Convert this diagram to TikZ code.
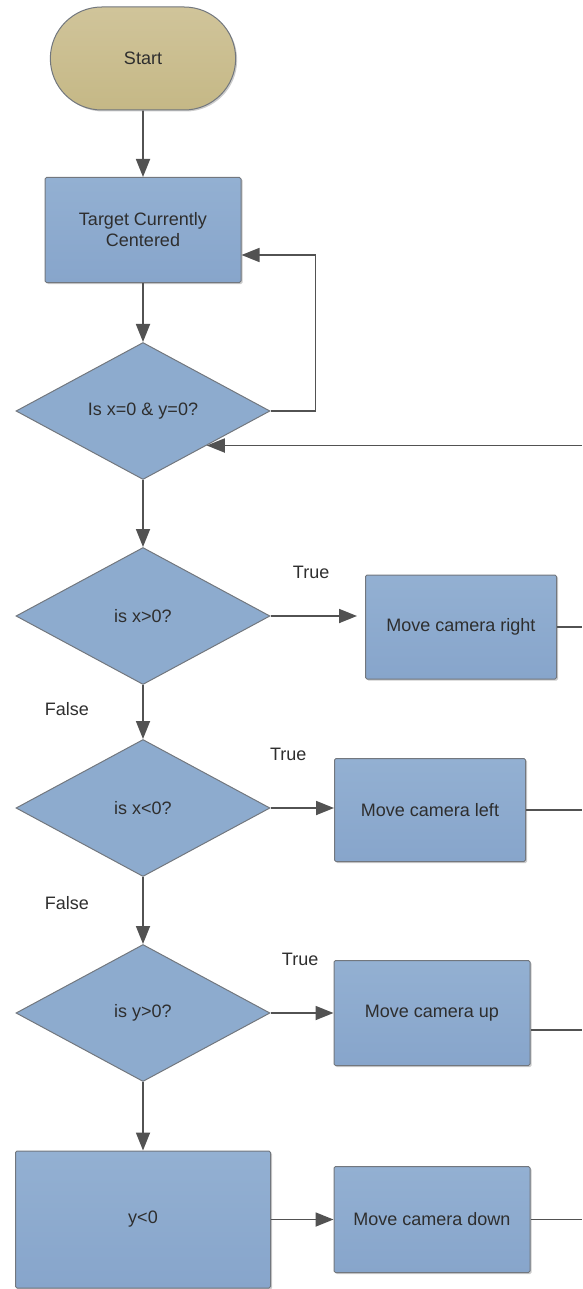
\documentclass[tikz,border=0pt]{standalone}
\usepackage{fontspec}
\setmainfont{Liberation Sans}
\usetikzlibrary{arrows.meta,shapes.geometric,shapes.misc,shadows}

\definecolor{boxtop}{HTML}{93B0D2}
\definecolor{boxbot}{HTML}{87A5CB}
\definecolor{diafill}{HTML}{8DABCE}
\definecolor{tantop}{HTML}{D0C49A}
\definecolor{tanbot}{HTML}{C5B886}
\definecolor{bordergrey}{HTML}{72777E}
\definecolor{linegrey}{HTML}{525252}
\definecolor{textgrey}{HTML}{2E2E2E}

\begin{document}
\begin{tikzpicture}[x=1pt,y=1pt,->,>={Triangle[length=18pt,width=14pt]},
    font=\fontsize{18}{21}\selectfont,text=textgrey,
    terminal/.style={rounded rectangle,draw=bordergrey,line width=1pt,top color=tantop,bottom color=tanbot,minimum width=192pt,minimum height=103pt,drop shadow={shadow xshift=1.5pt,shadow yshift=-1.5pt,opacity=0.4}},
    process/.style={rectangle,rounded corners=1.5pt,draw=bordergrey,line width=1pt,top color=boxtop,bottom color=boxbot,minimum width=196pt,minimum height=105pt,align=center,drop shadow={shadow xshift=1.5pt,shadow yshift=-1.5pt,opacity=0.4}},
    decision/.style={diamond,aspect=1.85,draw=bordergrey,line width=1pt,fill=diafill,minimum width=254pt,minimum height=137pt,inner sep=0pt},
    flow/.style={draw=linegrey,line width=1.8pt}]
    \useasboundingbox (0,0) rectangle (582,-1289);
    \coordinate (edge) at (582,0);
    \node[terminal] (start) at (143,-58.5) {Start};
    \node[process] (target) [below of=start,node distance=171.5pt] {Target Currently\\Centered};
    \node[decision] (isorigin) [below of=target,node distance=181pt] {Is x=0 \& y=0?};
    \node[decision] (xpos) [below of=isorigin,node distance=205pt] {is x>0?};
    \node[decision] (xneg) [below of=xpos,node distance=192pt] {is x<0?};
    \node[decision] (ypos) [below of=xneg,node distance=205pt] {is y>0?};
    \node[process,minimum width=255pt,minimum height=137pt] (yneg) [below of=ypos,node distance=206.5pt] {y<0};
    \node[process,minimum width=191pt,minimum height=104pt] (right) [right of=xpos,node distance=318pt,yshift=-11pt] {Move camera right};
    \node[process,minimum width=191pt,minimum height=103pt] (left) [right of=xneg,node distance=287pt,yshift=-2pt] {Move camera left};
    \node[process] (up) [right of=ypos,node distance=289pt] {Move camera up};
    \node[process,minimum height=106pt] (down) [right of=yneg,node distance=289pt] {Move camera down};
    \path[every edge/.append style={flow}]
        (start) edge (target)
        (target) edge (isorigin)
        (isorigin) edge (xpos)
        (xpos) edge node [left=50pt,pos=0.45] {False} (xneg)
        (xneg) edge node [left=50pt,pos=0.39] {False} (ypos)
        (ypos) edge (yneg)
        (xpos.east) edge [shorten >=8pt] node [above=33pt,pos=0.43] {True} (xpos.east -| right.west)
        (xneg.east) edge node [above=43pt,pos=0.28] {True} (xneg.east -| left.west)
        (ypos.east) edge node [above=43pt,pos=0.47] {True} (ypos.east -| up.west)
        (yneg) edge (down)
    ;
    \draw[flow] (edge |- isorigin.south east) -- (isorigin.south east);
    \draw[flow] (isorigin.east) -- ++(45,0) |- ([yshift=-25pt]target.east);
    \draw[flow,-] (right.east) -- (right.east -| edge);
    \draw[flow,-] (left.east) -- (left.east -| edge);
    \draw[flow,-] ([yshift=-17pt]up.east) -- ([yshift=-17pt]up.east -| edge);
    \draw[flow,-] (down.east) -- (down.east -| edge);
\end{tikzpicture}
\end{document}
